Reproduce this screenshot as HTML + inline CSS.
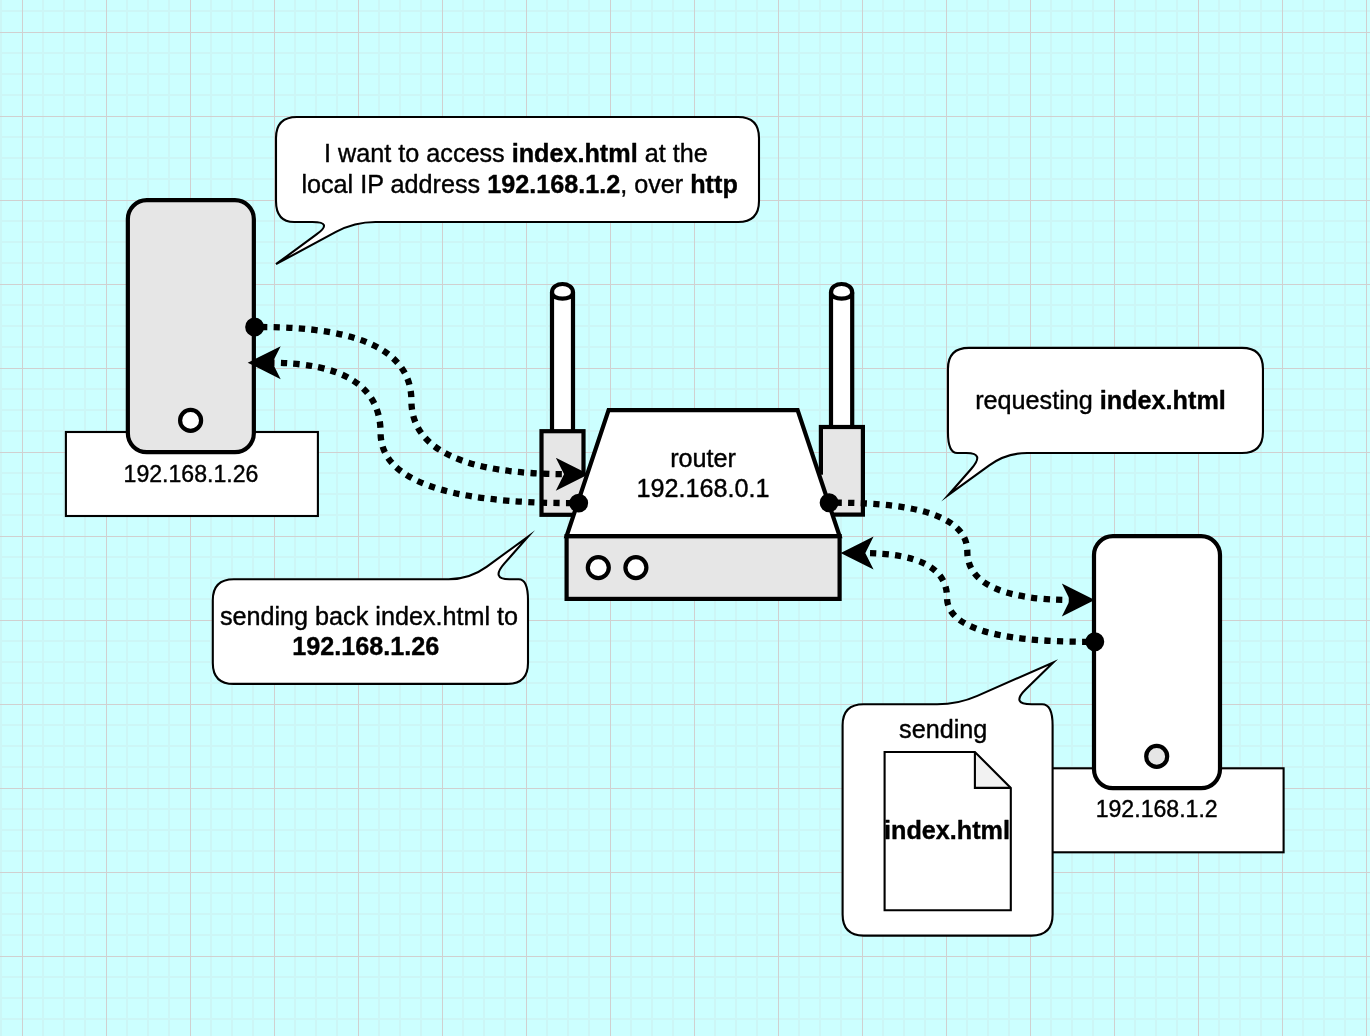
<!DOCTYPE html>
<html><head><meta charset="utf-8"><title>Local network request diagram</title>
<style>
html,body{margin:0;padding:0;background:#ccffff;}
body{width:1370px;height:1036px;overflow:hidden;}
svg{display:block;will-change:transform;}
svg text{font-family:"Liberation Sans",sans-serif;fill:#000;stroke:#000;stroke-width:0.4px;stroke-linejoin:round;}
</style></head>
<body>
<svg width="1370" height="1036" viewBox="0 0 1370 1036">
<rect x="0" y="0" width="1370" height="1036" fill="#ccffff"/>
<path d="M43 0V1036M64 0V1036M85 0V1036M127 0V1036M148 0V1036M169 0V1036M211 0V1036M232 0V1036M253 0V1036M295 0V1036M316 0V1036M337 0V1036M379 0V1036M400 0V1036M421 0V1036M463 0V1036M484 0V1036M505 0V1036M547 0V1036M568 0V1036M589 0V1036M631 0V1036M652 0V1036M673 0V1036M715 0V1036M736 0V1036M757 0V1036M799 0V1036M820 0V1036M841 0V1036M883 0V1036M904 0V1036M925 0V1036M967 0V1036M988 0V1036M1009 0V1036M1051 0V1036M1072 0V1036M1093 0V1036M1135 0V1036M1156 0V1036M1177 0V1036M1219 0V1036M1240 0V1036M1261 0V1036M1303 0V1036M1324 0V1036M1345 0V1036M1 0V1036M0 11H1370M0 53H1370M0 74H1370M0 95H1370M0 137H1370M0 158H1370M0 179H1370M0 221H1370M0 242H1370M0 263H1370M0 305H1370M0 326H1370M0 347H1370M0 389H1370M0 410H1370M0 431H1370M0 473H1370M0 494H1370M0 515H1370M0 557H1370M0 578H1370M0 599H1370M0 641H1370M0 662H1370M0 683H1370M0 725H1370M0 746H1370M0 767H1370M0 809H1370M0 830H1370M0 851H1370M0 893H1370M0 914H1370M0 935H1370M0 977H1370M0 998H1370M0 1019H1370" stroke="#ccf6f6" stroke-width="2" fill="none" shape-rendering="crispEdges"/>
<path d="M22.5 0V1036M106.5 0V1036M190.5 0V1036M274.5 0V1036M358.5 0V1036M442.5 0V1036M526.5 0V1036M610.5 0V1036M694.5 0V1036M778.5 0V1036M862.5 0V1036M946.5 0V1036M1030.5 0V1036M1114.5 0V1036M1198.5 0V1036M1282.5 0V1036M1366.5 0V1036M0 32.5H1370M0 116.5H1370M0 200.5H1370M0 284.5H1370M0 368.5H1370M0 452.5H1370M0 536.5H1370M0 620.5H1370M0 704.5H1370M0 788.5H1370M0 872.5H1370M0 956.5H1370" stroke="#d0d0d0" stroke-width="1" fill="none" shape-rendering="crispEdges"/>
<rect x="65.9" y="432" width="252" height="84" rx="0" ry="0" fill="#fff" stroke="#000" stroke-width="2.1"/>
<rect x="127.85" y="200.2" width="126" height="252" rx="18.9" ry="18.9" fill="#e6e6e6" stroke="#000" stroke-width="4.2"/>
<circle cx="190.6" cy="420.4" r="10.5" fill="#fff" stroke="#000" stroke-width="4.2"/>
<text x="191" y="481.5" font-size="23.1" text-anchor="middle">192.168.1.26</text>
<rect x="1031.6" y="768.3" width="252" height="84" rx="0" ry="0" fill="#fff" stroke="#000" stroke-width="2.1"/>
<rect x="1094" y="536.2" width="126" height="252" rx="18.9" ry="18.9" fill="#fff" stroke="#000" stroke-width="4.2"/>
<circle cx="1156.7" cy="756.4" r="10.5" fill="#e6e6e6" stroke="#000" stroke-width="4.2"/>
<text x="1156.7" y="817.1" font-size="23.1" text-anchor="middle">192.168.1.2</text>
<path d="M 552 292.4 C 552 281.2 573 281.2 573 292.4 L 573 485.6 C 573 496.8 552 496.8 552 485.6 Z" fill="#fff" stroke="#000" stroke-width="4.2"/><path d="M 552 292.4 C 552 300.8 573 300.8 573 292.4" fill="none" stroke="#000" stroke-width="4.2"/>
<path d="M 831 292.4 C 831 281.2 852.2 281.2 852.2 292.4 L 852.2 485.6 C 852.2 496.8 831 496.8 831 485.6 Z" fill="#fff" stroke="#000" stroke-width="4.2"/><path d="M 831 292.4 C 831 300.8 852.2 300.8 852.2 292.4" fill="none" stroke="#000" stroke-width="4.2"/>
<rect x="541.5" y="431.2" width="42" height="83.6" rx="0" ry="0" fill="#e6e6e6" stroke="#000" stroke-width="4.2"/>
<rect x="820.9" y="427" width="42" height="87.6" rx="0" ry="0" fill="#e6e6e6" stroke="#000" stroke-width="4.2"/>
<rect x="579" y="474.7" width="12" height="38" fill="#e6e6e6"/>
<rect x="813" y="474.7" width="10.1" height="38" fill="#e6e6e6"/>
<rect x="566.6" y="536.1" width="273" height="62.8" rx="0" ry="0" fill="#e6e6e6" stroke="#000" stroke-width="4.2"/>
<circle cx="598.3" cy="567.6" r="10.5" fill="#fff" stroke="#000" stroke-width="4.2"/>
<circle cx="635.9" cy="567.6" r="10.5" fill="#fff" stroke="#000" stroke-width="4.2"/>
<path d="M 566.6 536.1 L 608.6 410.1 L 797.6 410.1 L 839.6 536.1 Z" fill="#fff" stroke="#000" stroke-width="4.2" stroke-miterlimit="10"/>
<text x="703.1" y="466.9" font-size="25.2" text-anchor="middle">router</text>
<text x="703.1" y="497" font-size="25.2" text-anchor="middle">192.168.0.1</text>
<path d="M 260.9 327 Q 411.4 327 411.4 400.6 Q 411.4 474.2 567.58 474.2" fill="none" stroke="#000" stroke-width="6.3" stroke-dasharray="6.3 6.3" stroke-miterlimit="10"/>
<circle cx="254.6" cy="327" r="6.3" fill="#000" stroke="#000" stroke-width="6.3"/>
<path d="M 581.76 474.2 L 562.86 483.65 L 567.58 474.2 L 562.86 464.75 Z" fill="#000" stroke="#000" stroke-width="6.3" stroke-miterlimit="10"/>
<path d="M 572.4 503.1 Q 380.6 503.1 380.6 432.9 Q 380.6 362.7 268.92 362.7" fill="none" stroke="#000" stroke-width="6.3" stroke-dasharray="6.3 6.3" stroke-miterlimit="10"/>
<circle cx="578.7" cy="503.1" r="6.3" fill="#000" stroke="#000" stroke-width="6.3"/>
<path d="M 254.74 362.7 L 273.64 353.25 L 268.92 362.7 L 273.64 372.15 Z" fill="#000" stroke="#000" stroke-width="6.3" stroke-miterlimit="10"/>
<path d="M 835.4 502.7 Q 967.3 502.7 967.3 551.35 Q 967.3 600 1073.58 600" fill="none" stroke="#000" stroke-width="6.3" stroke-dasharray="6.3 6.3" stroke-miterlimit="10"/>
<circle cx="829.1" cy="502.7" r="6.3" fill="#000" stroke="#000" stroke-width="6.3"/>
<path d="M 1087.76 600 L 1068.86 609.45 L 1073.58 600 L 1068.86 590.55 Z" fill="#000" stroke="#000" stroke-width="6.3" stroke-miterlimit="10"/>
<path d="M 1088.5 641.8 Q 947 641.8 947 597.45 Q 947 553.1 861.82 553.1" fill="none" stroke="#000" stroke-width="6.3" stroke-dasharray="6.3 6.3" stroke-miterlimit="10"/>
<circle cx="1094.8" cy="641.8" r="6.3" fill="#000" stroke="#000" stroke-width="6.3"/>
<path d="M 847.64 553.1 L 866.54 543.65 L 861.82 553.1 L 866.54 562.55 Z" fill="#000" stroke="#000" stroke-width="6.3" stroke-miterlimit="10"/>
<path d="M 276 169.5 L 276 138 Q 276 117 297 117 L 738 117 Q 759 117 759 138 L 759 201 Q 759 222 738 222 L 375.4 222 Q 354.4 222 335.91 231.95 L 276 264.2 L 316.48 234.44 Q 333.4 222 312.4 222 L 294.2 222 Q 276 222 276 201 Z" fill="#fff" stroke="#000" stroke-width="2.1" stroke-miterlimit="10"/>
<text x="515.9" y="162.3" font-size="25.2" text-anchor="middle">I want to access <tspan font-weight="bold">index.html</tspan> at the</text>
<text x="519.6" y="192.8" font-size="25.2" text-anchor="middle">local IP address <tspan font-weight="bold">192.168.1.2</tspan>, over <tspan font-weight="bold">http</tspan></text>
<path d="M 947.95 400.42 L 947.95 368.9 Q 947.95 347.9 968.95 347.9 L 1241.95 347.9 Q 1262.95 347.9 1262.95 368.9 L 1262.95 431.95 Q 1262.95 452.95 1241.95 452.95 L 1027.2 452.95 Q 1006.2 452.95 989.23 465.31 L 948.2 495.2 L 971.36 468.75 Q 985.2 452.95 966.58 452.95 L 957.26 452.95 Q 947.95 452.95 947.95 431.95 Z" fill="#fff" stroke="#000" stroke-width="2.1" stroke-miterlimit="10"/>
<text x="1100.5" y="408.8" font-size="25.2" text-anchor="middle">requesting <tspan font-weight="bold">index.html</tspan></text>
<path d="M 528 631.55 L 528 662.9 Q 528 683.9 507 683.9 L 233.8 683.9 Q 212.8 683.9 212.8 662.9 L 212.8 600.2 Q 212.8 579.2 233.8 579.2 L 448.6 579.2 Q 469.6 579.2 486.57 566.82 L 528 536.6 L 504.45 563.42 Q 490.6 579.2 509.3 579.2 L 518.65 579.2 Q 528 579.2 528 600.2 Z" fill="#fff" stroke="#000" stroke-width="2.1" stroke-miterlimit="10"/>
<text x="369" y="624.6" font-size="25.2" text-anchor="middle">sending back index.html to</text>
<text x="365.8" y="655" font-size="25.2" text-anchor="middle"><tspan font-weight="bold">192.168.1.26</tspan></text>
<path d="M 1052.6 819.95 L 1052.6 914.6 Q 1052.6 935.6 1031.6 935.6 L 863.6 935.6 Q 842.6 935.6 842.6 914.6 L 842.6 725.3 Q 842.6 704.3 863.6 704.3 L 937.1 704.3 Q 958.1 704.3 977.32 695.85 L 1053.2 662.5 L 1025.59 689.59 Q 1010.6 704.3 1031.6 704.3 L 1042.1 704.3 Q 1052.6 704.3 1052.6 725.3 Z" fill="#fff" stroke="#000" stroke-width="2.1" stroke-miterlimit="10"/>
<text x="943.2" y="737.7" font-size="25.2" text-anchor="middle">sending</text>
<path d="M 884.6 752 L 974.9 752 L 1010.8 787.9 L 1010.8 910.2 L 884.6 910.2 Z" fill="#fff" stroke="#000" stroke-width="2.1" stroke-miterlimit="10"/>
<path d="M 974.9 752 L 974.9 787.9 L 1010.8 787.9 Z" fill="#000" fill-opacity="0.05" stroke="none"/>
<path d="M 974.9 752 L 974.9 787.9 L 1010.8 787.9" fill="none" stroke="#000" stroke-width="2.1" stroke-miterlimit="10"/>
<text x="947" y="838.9" font-size="25.2" text-anchor="middle"><tspan font-weight="bold">index.html</tspan></text>
</svg>
</body></html>
